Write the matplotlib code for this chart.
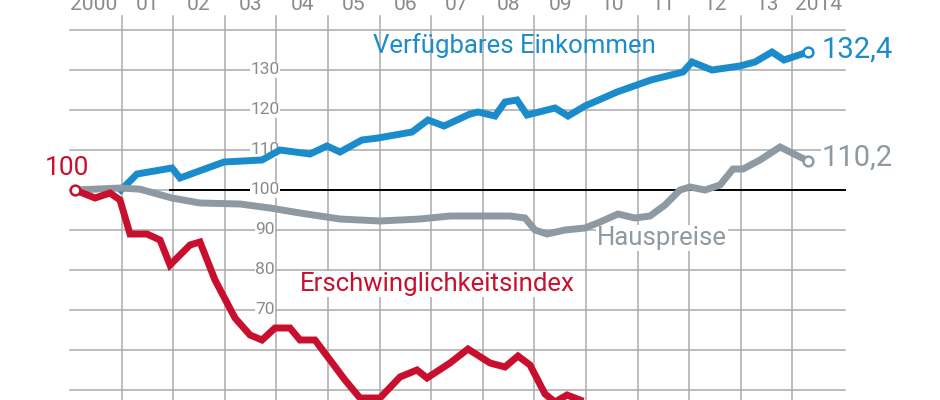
import matplotlib
matplotlib.use("Agg")
import matplotlib.pyplot as plt
import numpy as np

plt.rcParams['font.family'] = 'Roboto'

def yr(px):
    return [2000 + (p - 70) / 51.6 for p in px]

ein_px = [121, 137, 172, 180, 224, 262, 280, 310, 327, 340, 362, 378, 412, 428, 444, 470, 478, 495, 505, 517, 527, 555, 568, 585, 617, 651, 683, 692, 712, 740, 755, 772, 784, 808]
ein_val = [100, 104, 105.5, 103, 107, 107.5, 110, 109, 111, 109.5, 112.5, 113, 114.5, 117.5, 116, 119, 119.5, 118.5, 122, 122.5, 118.75, 120.5, 118.5, 121, 124.5, 127.5, 129.5, 132, 130, 131, 132, 134.5, 132.5, 134.5]

haus_px = [75, 121, 140, 172, 200, 240, 270, 300, 340, 380, 420, 450, 510, 525, 535, 547, 565, 585, 600, 618, 635, 650, 665, 680, 690, 705, 720, 733, 743, 760, 780, 808]
haus_val = [100, 100.5, 100.2, 98, 96.75, 96.5, 95.5, 94.25, 92.75, 92.25, 92.75, 93.5, 93.5, 93, 90, 89, 90, 90.5, 92, 94, 93, 93.5, 96.25, 100, 100.75, 100, 101.25, 105.25, 105.25, 107.5, 110.75, 107.25]

ers_px = [75, 95, 110, 120, 130, 147, 160, 170, 190, 200, 215, 235, 250, 262, 275, 290, 300, 315, 345, 360, 380, 400, 417, 427, 450, 468, 490, 505, 518, 530, 545, 555, 567, 580]
ers_val = [100, 98, 99.25, 97.5, 89, 89, 87.5, 81.25, 86.25, 87, 77.5, 68, 63.75, 62.5, 65.5, 65.5, 62.5, 62.5, 52.5, 48, 48, 53.25, 55, 53, 56.75, 60.25, 56.75, 55.75, 58.5, 56.25, 49, 47, 48.75, 47.5]

years = list(range(2000, 2015))
year_labels = ['2000', '01', '02', '03', '04', '05', '06', '07', '08', '09', '10', '11', '12', '13', '2014']
y_ticks = [130, 120, 110, 100, 90, 80, 70]

BLUE = '#1b8ccb'
GREY = '#8e99a2'
RED = '#c8102e'
GRID = '#aaaaaa'

fig = plt.figure(figsize=(9.4, 4.0), dpi=100)
ax = fig.add_axes([0, 0, 1, 1])
ax.set_xlim(2000 - 70 / 51.6, 2000 + 870 / 51.6)
ax.set_ylim(47.5, 147.5)
ax.axis('off')

xr = 2000 + 775 / 51.6
for v in range(50, 150, 10):
    ax.plot([2000, xr], [v, v], color=GRID, lw=1.1, zorder=1)
ax.plot([2000 + 100 / 51.6, xr], [100, 100], color='black', lw=1.4, zorder=2)
for y in years[1:]:
    ax.plot([y, y], [47.5, 143.5], color=GRID, lw=1.1, zorder=1)
for y, lab in zip(years, year_labels):
    ax.text(y + 0.5 if y > 2000 else 2000.45, 146.4, lab, ha='center', va='center', fontsize=15, color='#8a8a8a')
lx = 2000 + 195 / 51.6
for v in y_ticks:
    ax.text(lx, v, str(v), ha='center', va='center', fontsize=12.5, color='#8a8a8a',
            bbox=dict(facecolor='white', edgecolor='none', pad=0.3), zorder=3)

kw = dict(lw=5, solid_joinstyle='miter', zorder=4)
ax.plot(yr(ein_px), ein_val, color=BLUE, **kw)
ax.plot(yr(haus_px), haus_val, color=GREY, **kw)
ax.plot(yr(ers_px), ers_val, color=RED, **kw)
ax.plot(yr([808])[0], ein_val[-1], 'o', ms=7, mfc='white', mec=BLUE, mew=1.8, zorder=5)
ax.plot(yr([808])[0], haus_val[-1], 'o', ms=7, mfc='white', mec=GREY, mew=1.8, zorder=5)
ax.plot(yr([75])[0], 100, 'o', ms=7, mfc='white', mec=RED, mew=1.8, zorder=5)

bb = dict(facecolor='white', edgecolor='none', pad=0.5)
ax.text(yr([373])[0], 136, 'Verfügbares Einkommen', fontsize=18.5, color=BLUE, va='center', ha='left')
ax.text(yr([597])[0], 88, 'Hauspreise', fontsize=18.5, color=GREY, va='center', ha='left', bbox=bb, zorder=3)
ax.text(yr([300])[0], 76.5, 'Erschwinglichkeitsindex', fontsize=18.5, color=RED, va='center', ha='left', bbox=bb, zorder=3)
ax.text(yr([67])[0], 105.5, '100', fontsize=19, color=RED, va='center', ha='center')
ax.text(yr([822])[0], 135.2, '132,4', fontsize=21, color=BLUE, va='center', ha='left', bbox=bb, zorder=3)
ax.text(yr([822])[0], 108.2, '110,2', fontsize=21, color=GREY, va='center', ha='left', bbox=bb, zorder=3)

fig.savefig('out.png', dpi=100)
